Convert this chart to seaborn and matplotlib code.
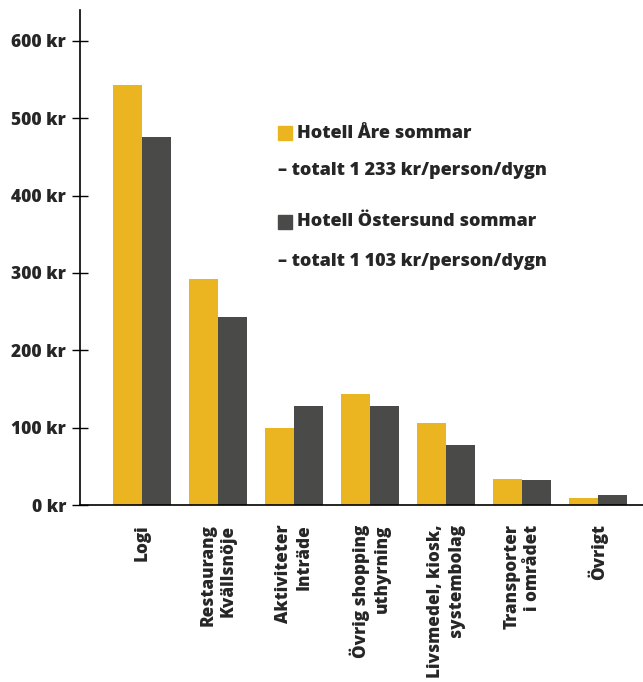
import pandas as pd
import numpy as np
import matplotlib
matplotlib.use("Agg")
import matplotlib.pyplot as plt
import seaborn as sns
from matplotlib.patches import Rectangle

categories = ["Logi", "Restaurang\nKvällsnöje", "Aktiviteter\nInträde", "Övrig shopping\nuthyrning",
              "Livsmedel, kiosk,\nsystembolag", "Transporter\ni området", "Övrigt"]
are = [543, 292, 99, 143, 106, 34, 9]
ostersund = [476, 243, 128, 128, 77, 32, 13]
series = ["Hotell Åre sommar", "Hotell Östersund sommar"]
totals = ["– totalt 1 233 kr/person/dygn", "– totalt 1 103 kr/person/dygn"]
yticks = [0, 100, 200, 300, 400, 500, 600]

colors = ["#EBB421", "#4A4A48"]

df = pd.DataFrame({
    "kategori": categories * 2,
    "kr": are + ostersund,
    "hotell": [series[0]] * len(categories) + [series[1]] * len(categories),
})

sns.set_style("white")
plt.rcParams['font.family'] = ['Open Sans', 'DejaVu Sans']
W = 'heavy'

fig = plt.figure(figsize=(6.43, 6.82), dpi=100)
ax = fig.add_axes([80/643, 1 - 505/682, 1 - 80/643, 495/682])

sns.barplot(data=df, x="kategori", y="kr", hue="hotell", palette=colors,
            width=0.77, saturation=1, linewidth=0, ax=ax, legend=False)

ax.set_ylim(0, 640)
ax.set_xlim(-0.816, 6.59)
ax.set_yticks(yticks)
ax.set_yticklabels([f"{v} kr" for v in yticks], fontsize=12.5, fontweight=W)
ax.tick_params(axis='y', direction='inout', length=12, width=1, color='black', pad=4, left=True)
ax.tick_params(axis='x', length=0, pad=14)
for lab in ax.get_xticklabels():
    lab.set_rotation(90)
    lab.set_fontsize(12.3)
    lab.set_fontweight(W)
    lab.set_multialignment('right')
    lab.set_linespacing(1.25)
    lab.set_va('top')
    lab.set_ha('center')
ax.set_xlabel("")
ax.set_ylabel("")
for s in ["top", "right"]:
    ax.spines[s].set_visible(False)
for s in ["left", "bottom"]:
    ax.spines[s].set_color("black")
    ax.spines[s].set_linewidth(1.2)

# legend block
ty = [133, 170, 222, 262]
for i in range(2):
    yh = 1 - (ty[2 * i] - 10) / 495
    ys = 1 - (ty[2 * i + 1] - 10) / 495
    ax.add_patch(Rectangle(((278 - 80) / 563, yh - 7 / 495), 14 / 563, 14 / 495,
                           transform=ax.transAxes, color=colors[i], clip_on=False))
    ax.text((297 - 80) / 563, yh, series[i], transform=ax.transAxes, fontsize=13,
            fontweight=W, va='center', ha='left')
    ax.text((278 - 80) / 563, ys, totals[i], transform=ax.transAxes, fontsize=13,
            fontweight=W, va='center', ha='left')

plt.savefig("out.png", dpi=100)
